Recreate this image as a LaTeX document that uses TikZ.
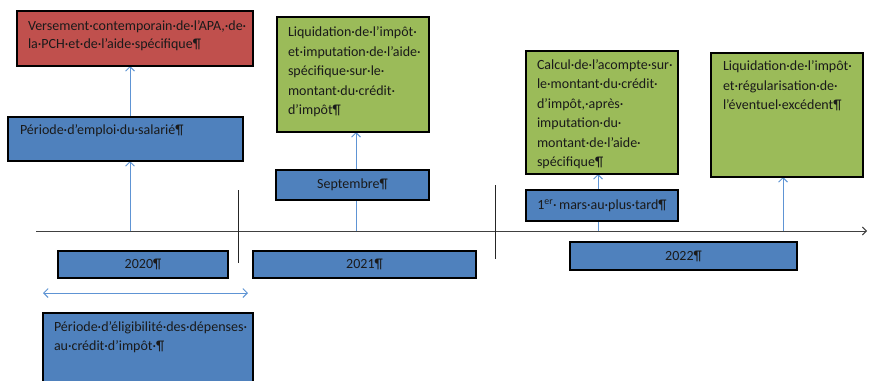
\documentclass[tikz,border=0pt]{standalone}
\usepackage{fontspec}
\setmainfont{Carlito}
\usetikzlibrary{arrows.meta,calc}
\pgfdeclarelayer{paper}
\pgfdeclarelayer{bg}
\pgfsetlayers{paper,bg,main}
\definecolor{boxblue}{HTML}{4F81BD}
\definecolor{boxgreen}{HTML}{9BBB59}
\definecolor{boxred}{HTML}{C0504D}
\definecolor{arrblue}{HTML}{5E94D4}
\definecolor{txtdark}{HTML}{1A1A1A}
\tikzset{
  boxst/.style={draw=black, line width=1.8pt, inner sep=0pt, outer sep=0pt, anchor=north west,
    text=txtdark, font=\fontsize{14}{18}\selectfont},
  txt/.style={inner sep=0pt, outer sep=0pt, anchor=north west, align=left, text=txtdark},
  conn/.style={draw=arrblue, line width=0.9pt, -{Straight Barb[length=4.5pt,width=9pt]}},
  dconn/.style={draw=arrblue, line width=0.9pt, {Straight Barb[length=4.5pt,width=9pt]}-{Straight Barb[length=4.5pt,width=9pt]}},
  axisst/.style={draw=black!75, line width=0.9pt, -{Straight Barb[length=4pt,width=8pt]}},
  tickst/.style={draw=black!85, line width=0.8pt},
}
\newcommand\bx[7]{\node[boxst, fill=#6, minimum width={#4-#2}, minimum height={#5-#3}] (#1) at (#2,#3) {#7};}
\begin{document}
\begin{tikzpicture}[x=1pt,y=-1pt]
\clip (0,0) rectangle (869,380);
\begin{pgfonlayer}{paper}
\fill[white] (0,0) rectangle (869,380);
\end{pgfonlayer}

% boxes
\bx{red}{17}{11}{253}{66}{boxred}{}
\bx{periode}{8}{117}{243}{161}{boxblue}{}
\bx{greenA}{277}{17}{429}{132}{boxgreen}{}
\bx{sept}{276}{170}{429}{200}{boxblue}{Septembre¶}
\bx{greenB}{526}{51}{678}{174}{boxgreen}{}
\bx{greenC}{711}{53}{863}{177}{boxgreen}{}
\bx{mars}{526}{190}{678}{221}{boxblue}{1\textsuperscript{er}·\,mars·au·plus·tard¶}
\bx{yA}{58}{251}{228}{278}{boxblue}{2020¶}
\bx{yB}{253}{251}{476}{278}{boxblue}{2021¶}
\bx{yC}{570}{242}{797}{270}{boxblue}{2022¶}
\bx{elig}{43}{313}{253}{400}{boxblue}{}

% texts
\node[txt, font=\fontsize{14}{18}\selectfont] (redT) at ($(red.north west)+(11,6.4)$)
  {\strut Versement·contemporain·de·l’APA,·de·\\la·PCH·et·de·l’aide·spécifique¶};
\node[txt, font=\fontsize{14}{18}\selectfont] (periodeT) at ($(periode.north west)+(12,4.4)$)
  {\strut Période·d’emploi·du·salarié¶};
\node[txt, font=\fontsize{14}{19.5}\selectfont] (greenAT) at ($(greenA.north west)+(11,6)$)
  {\strut Liquidation·de·l’impôt·\\et·imputation·de·l’aide·\\spécifique·sur·le·\\montant·du·crédit·\\d’impôt¶};
\node[txt, font=\fontsize{14}{19.5}\selectfont] (greenBT) at ($(greenB.north west)+(11,4.7)$)
  {\strut Calcul·de·l’acompte·sur·\\le·montant·du·crédit·\\d’impôt,·après·\\imputation·du·\\montant·de·l’aide·\\spécifique¶};
\node[txt, font=\fontsize{14}{19.5}\selectfont] (greenCT) at ($(greenC.north west)+(12,4.3)$)
  {\strut Liquidation·de·l’impôt·\\et·régularisation·de·\\l’éventuel·excédent¶};
\node[txt, font=\fontsize{14}{19.3}\selectfont] (eligT) at ($(elig.north west)+(11,4.5)$)
  {\strut Période·d’éligibilité·des·dépenses·\\au·crédit·d’impôt·¶};

% axis coordinates
\coordinate (axL) at (36,231);
\coordinate (axR) at (867,231);
\coordinate (aA) at (130,231);
\coordinate (aB) at (356,231);
\coordinate (aC) at (598,231);
\coordinate (aD) at (783,231);
\coordinate (t1a) at (238,190);
\coordinate (t1b) at (238,263);
\coordinate (t2a) at (495,185);
\coordinate (t2b) at (495,259);
\coordinate (dL) at (43,293);
\coordinate (dR) at (248,293);

\begin{pgfonlayer}{bg}
\draw[axisst] (axL) -- (axR);
\draw[tickst] (t1a) -- (t1b);
\draw[tickst] (t2a) -- (t2b);
\draw[conn] (aA) -- (aA |- periode.south);
\draw[conn] (periode.north -| aA) -- (aA |- red.south);
\draw[conn] (aB) -- (aB |- greenA.south);
\draw[conn] (aC) -- (aC |- greenB.south);
\draw[conn] (aD) -- (aD |- greenC.south);
\draw[dconn] (dL) -- (dR);
\end{pgfonlayer}
\end{tikzpicture}
\end{document}
